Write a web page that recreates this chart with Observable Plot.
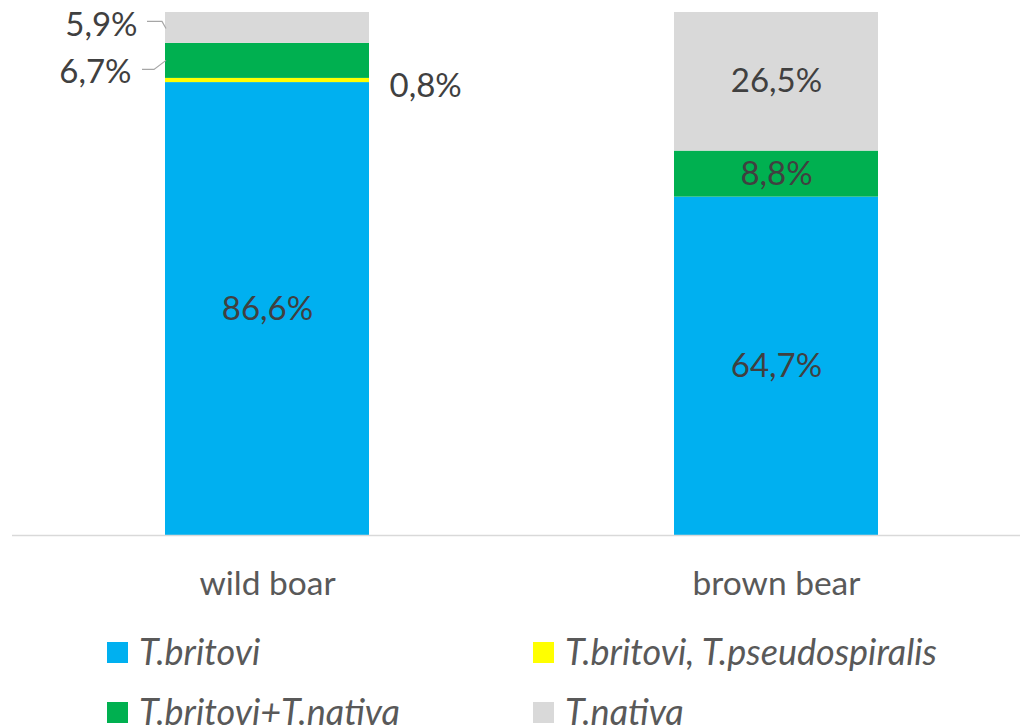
<!DOCTYPE html>
<html>
<head>
<meta charset="utf-8">
<script src="https://cdn.jsdelivr.net/npm/d3@7"></script>
<script src="https://cdn.jsdelivr.net/npm/@observablehq/plot@0.6"></script>
<style>
  html, body { margin: 0; padding: 0; background: #fff; overflow: hidden; }
  body { width: 1020px; height: 727px; position: relative; font-family: Lato, "Open Sans", sans-serif; }
  #chart svg { display: block; }
  #legend { position: absolute; left: 0; top: 0; width: 1020px; height: 727px; }
  .item { position: absolute; height: 43px; line-height: 43px; white-space: nowrap; font-style: italic; font-size: 36px; color: #595959; }
  .sw { position: absolute; width: 21px; height: 21px; }
  .txt { position: absolute; left: 32px; top: 0; }
</style>
</head>
<body>
<div id="chart"></div>
<div id="legend"></div>
<script>
const species = ["wild boar", "brown bear"];
const genotypes = ["T.britovi", "T.britovi, T.pseudospiralis", "T.britovi+T.nativa", "T.nativa"];
const wildBoar = [86.6, 0.8, 6.7, 5.9];
const brownBear = [64.7, 0, 8.8, 26.5];
const palette = ["#00B0F0", "#FFFF00", "#00B050", "#D9D9D9"];

const series = {"wild boar": wildBoar, "brown bear": brownBear};
const rows = [];
for (const s of species) {
  let acc = 0;
  series[s].forEach((v, i) => {
    rows.push({species: s, genotype: genotypes[i], value: v, y1: acc, y2: acc + v, mid: acc + v / 2});
    acc += v;
  });
}
const fmt = d => d.value.toFixed(1).replace(".", ",") + "%";
const pick = (s, g) => rows.filter(d => d.species === s && d.genotype === g);

const labelFont = 33;
const textColor = "#404040";

const leader = (index, scales) => {
  const g = d3.create("svg:g").attr("fill", "none").attr("stroke", "#A6A6A6").attr("stroke-width", 1.2);
  const x0 = scales.x("wild boar");
  const a = pick("wild boar", "T.nativa")[0];
  const b = pick("wild boar", "T.britovi+T.nativa")[0];
  const ya = scales.y(a.mid), yb = scales.y(b.mid);
  g.append("path").attr("d", `M${x0 + 1},${ya + 1}L${x0 - 3},${ya - 6}L${x0 - 18},${ya - 6}`);
  g.append("path").attr("d", `M${x0 + 1},${yb}L${x0 - 11},${yb + 9}L${x0 - 23},${yb + 9}`);
  return g.node();
};

const chart = Plot.plot({
  width: 1020,
  height: 615,
  marginTop: 12,
  marginBottom: 80,
  marginLeft: 12,
  marginRight: 0,
  style: {fontFamily: "Lato, 'Open Sans', sans-serif", background: "#fff"},
  x: {domain: species, range: [12, 1030], paddingInner: 0.6, paddingOuter: 0.3, label: null},
  y: {domain: [0, 100], axis: null},
  color: {domain: genotypes, range: palette},
  marks: [
    Plot.rectY(rows, {x: "species", y1: "y1", y2: "y2", fill: "genotype", inset: 0}),
    Plot.ruleY([0], {stroke: "#D9D9D9", strokeWidth: 1.5}),
    Plot.axisX({tickSize: 0, tickPadding: 36, fontSize: 33.5, color: "#595959", label: null}),
    Plot.text(rows.filter(d => d.value >= 8), {x: "species", y: "mid", text: fmt, fontSize: labelFont, fill: textColor}),
    Plot.text(pick("wild boar", "T.nativa"), {x: "species", y: "mid", text: fmt, fontSize: labelFont, fill: textColor, textAnchor: "end", dx: -130, dy: -2}),
    Plot.text(pick("wild boar", "T.britovi+T.nativa"), {x: "species", y: "mid", text: fmt, fontSize: labelFont, fill: textColor, textAnchor: "end", dx: -136, dy: 12}),
    Plot.text(pick("wild boar", "T.britovi, T.pseudospiralis"), {x: "species", y: "mid", text: fmt, fontSize: labelFont, fill: textColor, textAnchor: "start", dx: 122, dy: 6}),
    leader
  ]
});
document.getElementById("chart").appendChild(chart);

// legend: two columns, two rows
const legend = document.getElementById("legend");
const colLeft = [107, 533];
const rowTop = [630, 690];
genotypes.forEach((g, i) => {
  const it = document.createElement("div");
  it.className = "item";
  it.style.left = colLeft[i % 2] + "px";
  it.style.top = rowTop[Math.floor(i / 2)] + "px";
  const sw = document.createElement("span");
  sw.className = "sw";
  sw.style.background = palette[i];
  sw.style.top = "12px";
  sw.style.left = "0px";
  const t = document.createElement("span");
  t.className = "txt";
  t.textContent = g;
  it.appendChild(sw);
  it.appendChild(t);
  legend.appendChild(it);
});
</script>
</body>
</html>
